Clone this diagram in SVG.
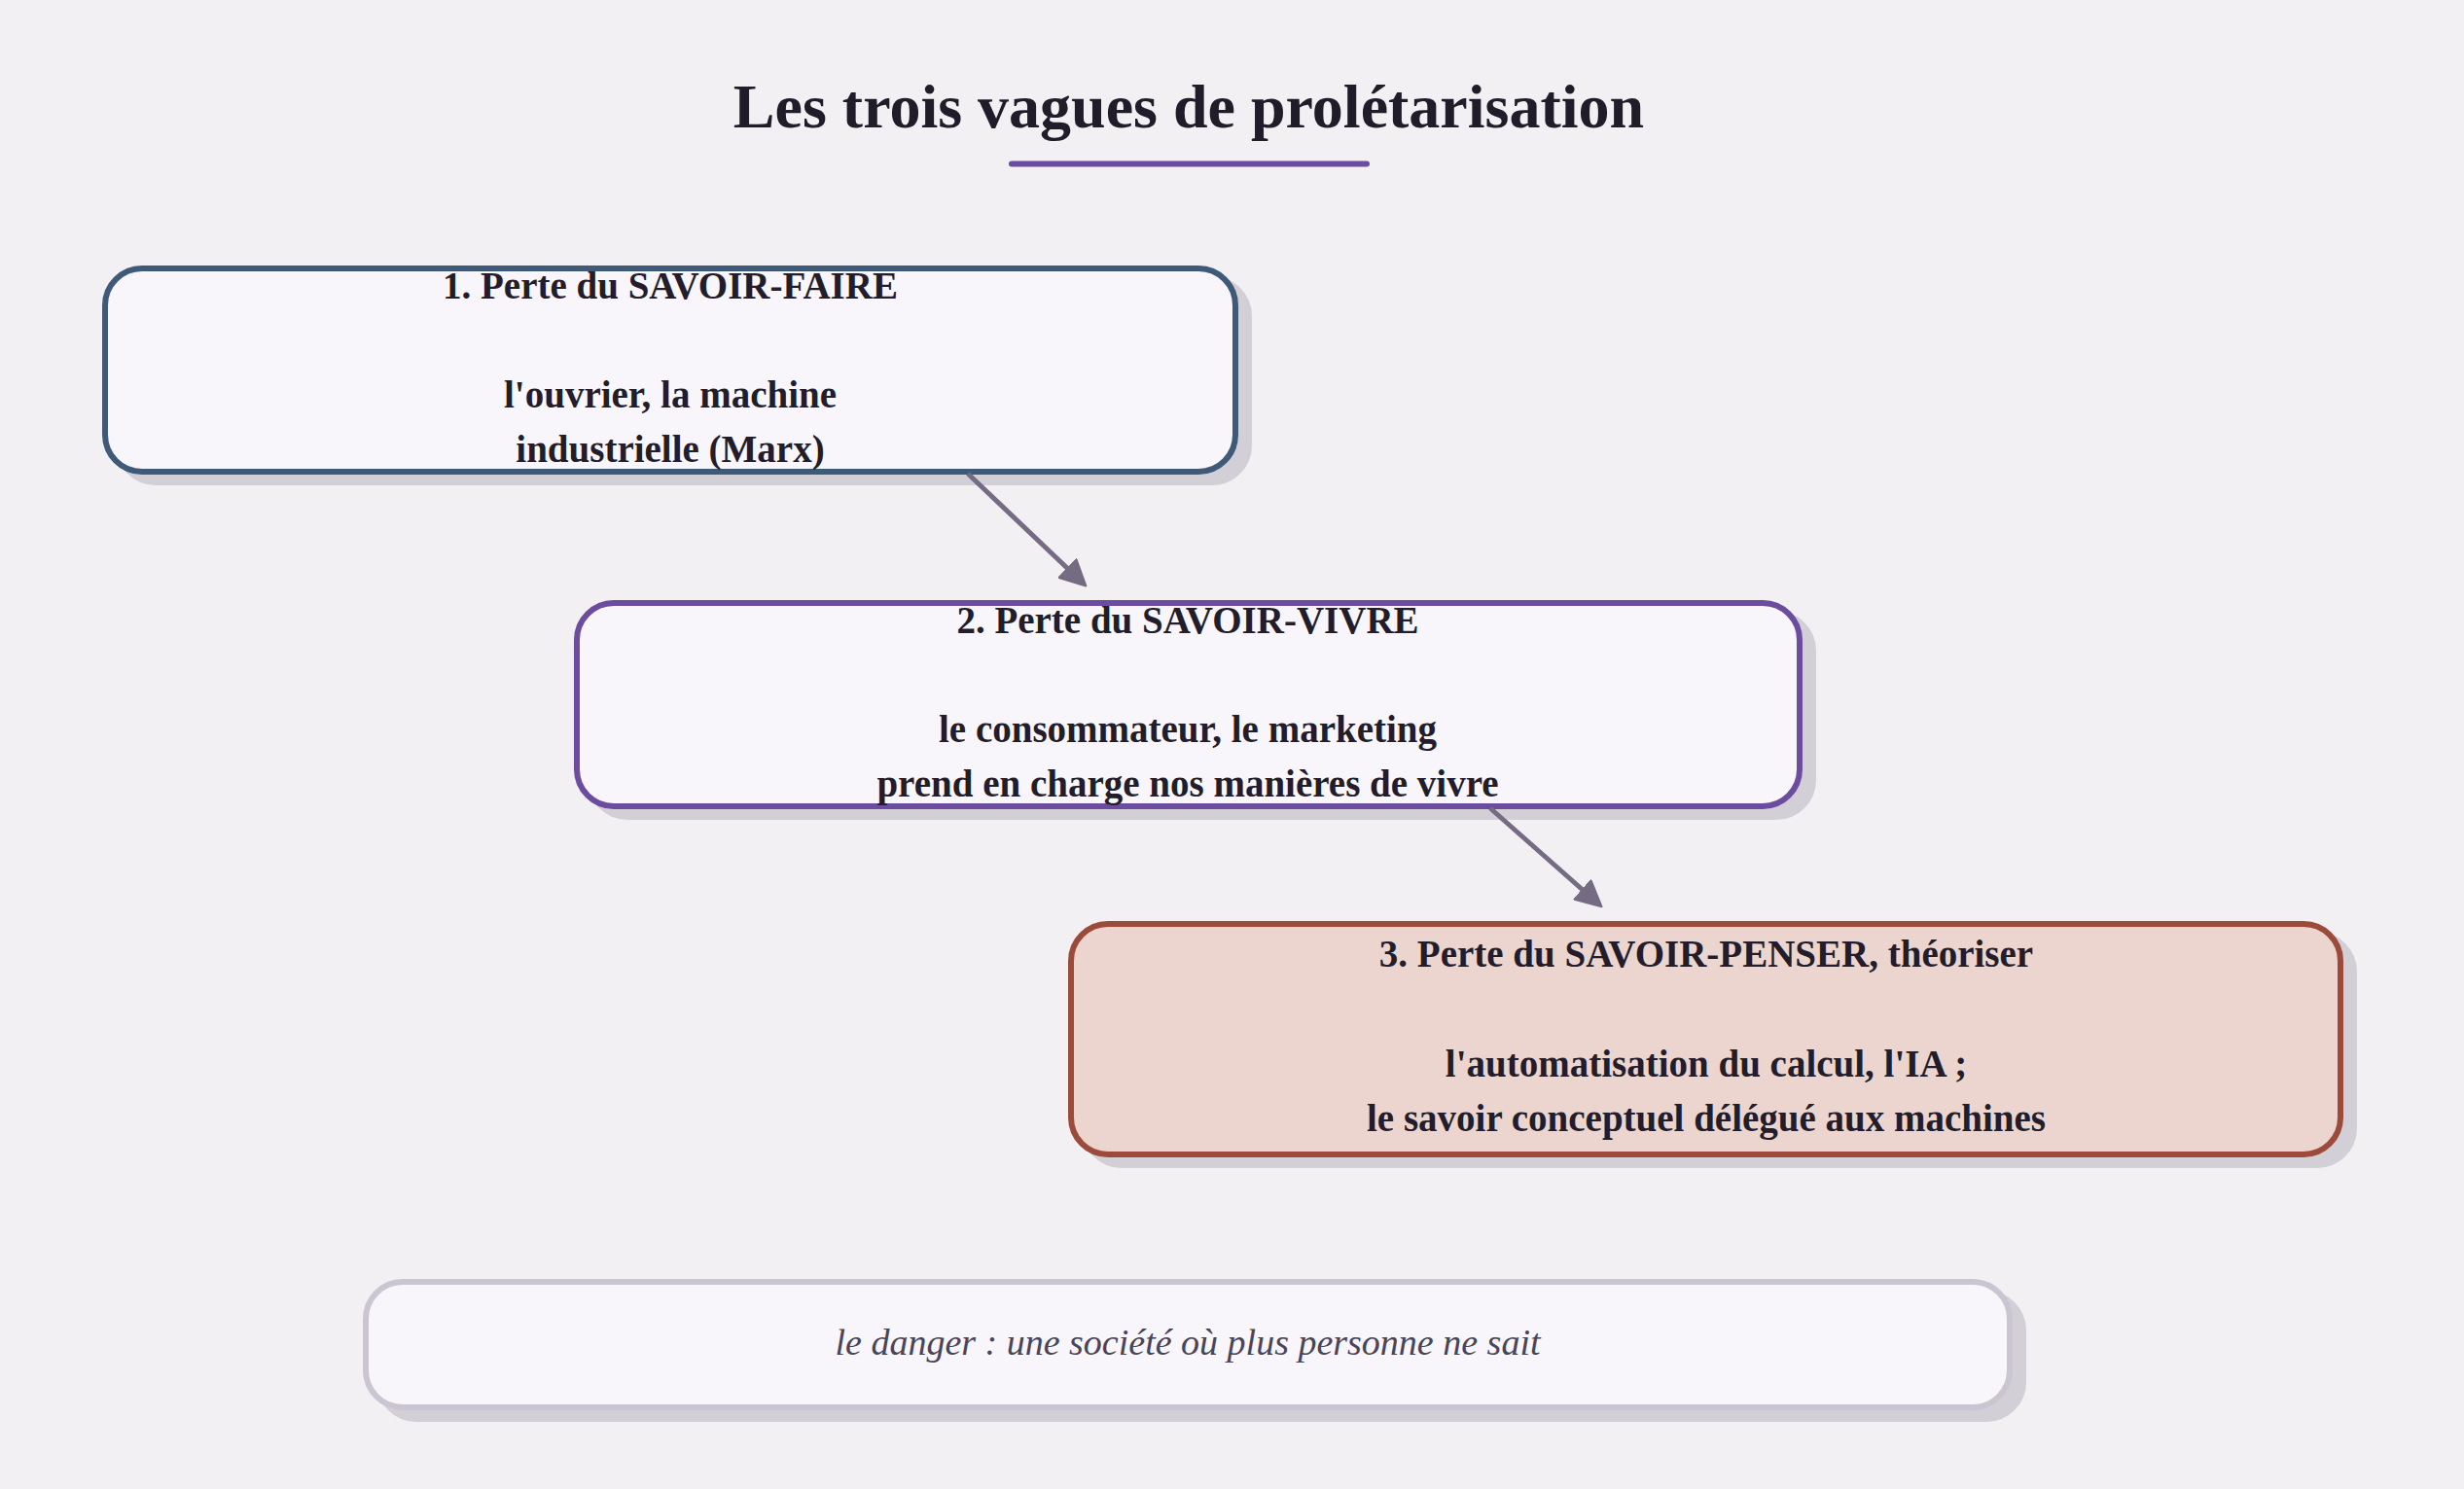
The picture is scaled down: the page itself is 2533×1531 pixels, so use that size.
<svg xmlns="http://www.w3.org/2000/svg" width="2533" height="1531" viewBox="0 0 2533 1531">
  <defs>
    <marker id="arrowhead" markerUnits="userSpaceOnUse" markerWidth="28" markerHeight="28" viewBox="0 0 28 28" refX="1" refY="14" orient="auto">
      <path d="M1,1 L27,14 L1,27 Z" fill="#756b82" stroke="#756b82" stroke-width="2" stroke-linejoin="round"/>
    </marker>
  </defs>
  <style>
    .bg { fill: #f2f0f3; }
    .title { font-family: "Liberation Serif", serif; font-weight: bold; font-size: 64px; fill: #211c29; text-anchor: middle; }
    .shadow { fill: #d3cfd6; stroke: #d3cfd6; stroke-width: 6; }
    .box { stroke-width: 6; }
    .plain { fill: #f8f6fa; }
    .label { font-family: "Liberation Serif", serif; font-weight: bold; font-size: 39px; fill: #231d2b; text-anchor: middle; }
    .note { font-family: "Liberation Serif", serif; font-style: italic; font-size: 38px; fill: #4a4458; text-anchor: middle; }
    .edge { stroke: #756b82; stroke-width: 5; fill: none; marker-end: url(#arrowhead); }
  </style>

  <rect class="bg" x="0" y="0" width="2533" height="1531"/>

  <g id="title">
    <text class="title" x="1222" y="131">Les trois vagues de prolétarisation</text>
    <line x1="1040" y1="168.5" x2="1405" y2="168.5" stroke="#6b4c9e" stroke-width="6" stroke-linecap="round"/>
  </g>

  <g id="node1">
    <rect class="shadow" x="122" y="287" width="1162" height="209" rx="38" ry="38"/>
    <rect class="box plain" x="108" y="276" width="1162" height="209" rx="38" ry="38" stroke="#3f5a78"/>
    <text class="label" x="689" y="307">1. Perte du SAVOIR-FAIRE</text>
    <text class="label" x="689" y="419">l'ouvrier, la machine</text>
    <text class="label" x="689" y="475">industrielle (Marx)</text>
  </g>

  <g id="node2">
    <rect class="shadow" x="607" y="631" width="1257" height="209" rx="38" ry="38"/>
    <rect class="box plain" x="593" y="620" width="1257" height="209" rx="38" ry="38" stroke="#6b4c9e"/>
    <text class="label" x="1221" y="651">2. Perte du SAVOIR-VIVRE</text>
    <text class="label" x="1221" y="763">le consommateur, le marketing</text>
    <text class="label" x="1221" y="819">prend en charge nos manières de vivre</text>
  </g>

  <g id="node3">
    <rect class="shadow" x="1115" y="961" width="1305" height="237" rx="38" ry="38"/>
    <rect class="box" x="1101" y="950" width="1305" height="237" rx="38" ry="38" fill="#ecd5cf" stroke="#9c4a3a"/>
    <text class="label" x="1754" y="994">3. Perte du SAVOIR-PENSER, théoriser</text>
    <text class="label" x="1754" y="1107">l'automatisation du calcul, l'IA ;</text>
    <text class="label" x="1754" y="1163">le savoir conceptuel délégué aux machines</text>
  </g>

  <g id="node4">
    <rect class="shadow" x="390" y="1330" width="1690" height="129" rx="38" ry="38"/>
    <rect class="box plain" x="376" y="1318" width="1690" height="129" rx="38" ry="38" stroke="#cbc5d1"/>
    <text class="note" x="1221" y="1393">le danger : une société où plus personne ne sait</text>
  </g>

  <g id="connectors">
    <line class="edge" x1="995" y1="487" x2="1097.5" y2="584.5"/>
    <line class="edge" x1="1532" y1="831" x2="1627" y2="915"/>
  </g>
</svg>
